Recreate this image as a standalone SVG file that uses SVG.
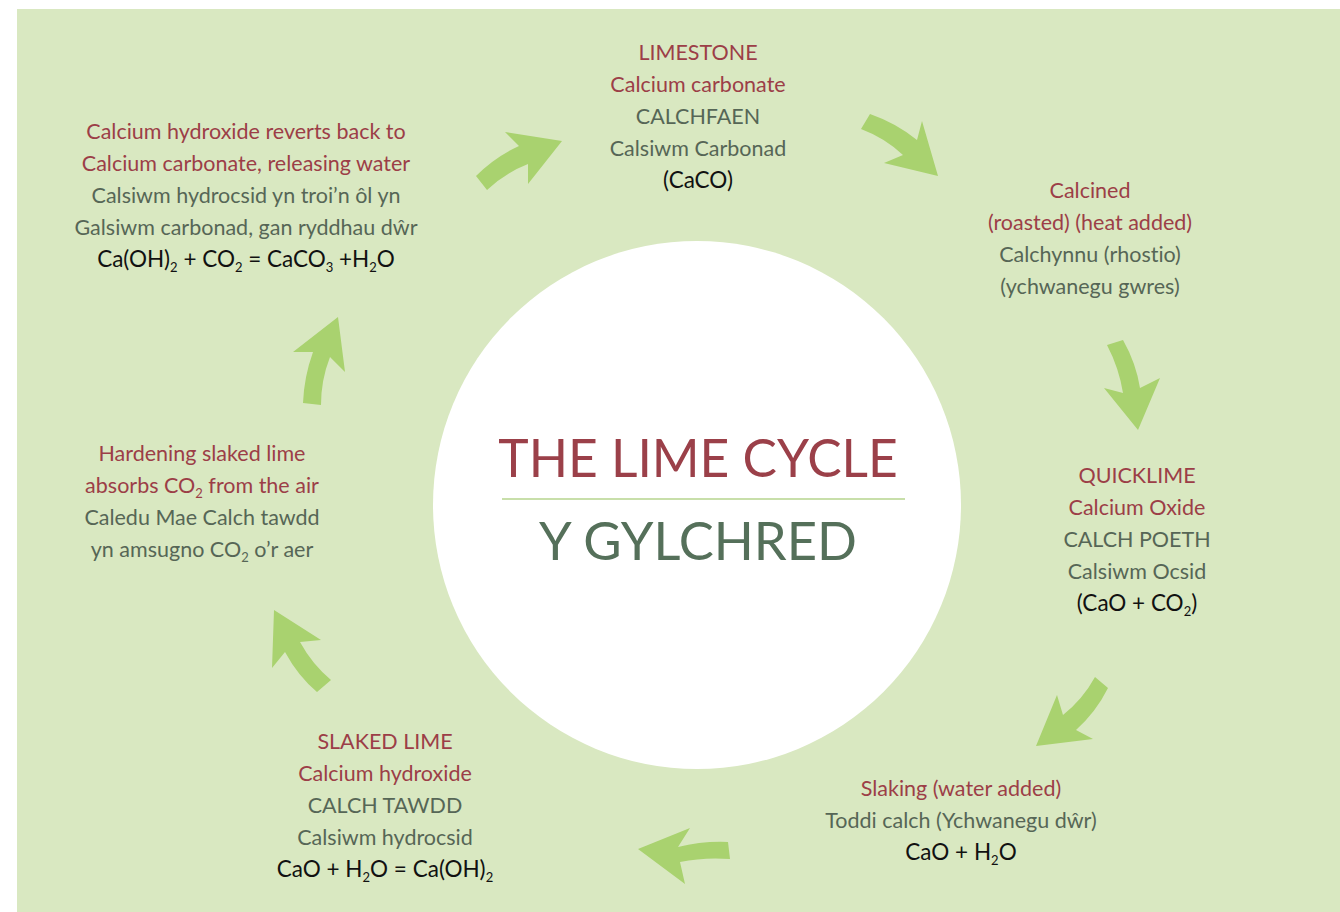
<svg xmlns="http://www.w3.org/2000/svg" width="1340" height="912" viewBox="0 0 1340 912">
<style>
text{font-variant-ligatures:none}
.t{font-family:Lato,"Open Sans","DejaVu Sans",sans-serif;font-size:21.5px;text-anchor:middle}
.r{fill:#9c3e47}
.g{fill:#566656}
.k{fill:#111111;font-size:22.5px}
.s{font-size:13px}
.arrow{fill:#a9d26f}
</style>
<rect x="17" y="9" width="1323" height="903" fill="#d9e8c1"/>
<g id="center">
<circle cx="697" cy="505" r="264" fill="#ffffff"/>
<text x="698" y="477" style="font-family:Lato,'Open Sans',sans-serif;font-size:51.5px;text-anchor:middle" fill="#9b4049">THE LIME CYCLE</text>
<line x1="502" y1="499" x2="905" y2="499" stroke="#b6d48e" stroke-width="1.5"/>
<text x="698" y="560" style="font-family:Lato,'Open Sans',sans-serif;font-size:52.5px;text-anchor:middle" fill="#55705a">Y GYLCHRED</text>
</g>
<g id="connectors">
<path class="arrow" d="M476,176 Q495,157 519,146 L505,132 L562,141 L528,184 L528,164 Q505,173 487,190 Z"/>
<path class="arrow" d="M870,114 Q896,123 917,140 L922,121 L938,176 L884,163 L903,155 Q885,138 861,129 Z"/>
<path class="arrow" d="M1123,340 Q1136,363 1140,388 L1160,378 L1138,430 L1104,388 L1123,393 Q1119,368 1107,345 Z"/>
<path class="arrow" d="M1095,677 Q1083,699 1063,715 L1057,695 L1036,746 L1093,739 L1076,730 Q1096,712 1108,688 Z"/>
<path class="arrow" d="M728,842 Q702,841 678,847 L690,828 L638,849 L685,884 L680,862 Q704,857 730,859 Z"/>
<path class="arrow" d="M331,680 Q312,664 300,642 L321,640 L274,610 L272,668 L285,652 Q298,676 317,692 Z"/>
<path class="arrow" d="M303,403 Q304,377 313,352 L293,352 L338,317 L345,372 L330,357 Q321,380 321,405 Z"/>
</g>
<g id="limestone">
<text class="t r" x="698" y="60">LIMESTONE</text>
<text class="t r" x="698" y="92">Calcium carbonate</text>
<text class="t g" x="698" y="124">CALCHFAEN</text>
<text class="t g" x="698" y="156">Calsiwm Carbonad</text>
<text class="t k" x="698" y="188">(CaCO)</text>
</g>
<g id="calcined">
<text class="t r" x="1090" y="198">Calcined</text>
<text class="t r" x="1090" y="230">(roasted) (heat added)</text>
<text class="t g" x="1090" y="262">Calchynnu (rhostio)</text>
<text class="t g" x="1090" y="294">(ychwanegu gwres)</text>
</g>
<g id="quicklime">
<text class="t r" x="1137" y="483">QUICKLIME</text>
<text class="t r" x="1137" y="515">Calcium Oxide</text>
<text class="t g" x="1137" y="547">CALCH POETH</text>
<text class="t g" x="1137" y="579">Calsiwm Ocsid</text>
<text class="t k" x="1137" y="611">(CaO + CO<tspan class="s" dy="5">2</tspan><tspan dy="-5">)</tspan></text>
</g>
<g id="slaking">
<text class="t r" x="961" y="796">Slaking (water added)</text>
<text class="t g" x="961" y="828">Toddi calch (Ychwanegu dŵr)</text>
<text class="t k" x="961" y="860">CaO + H<tspan class="s" dy="5">2</tspan><tspan dy="-5">O</tspan></text>
</g>
<g id="slaked-lime">
<text class="t r" x="385" y="749">SLAKED LIME</text>
<text class="t r" x="385" y="781">Calcium hydroxide</text>
<text class="t g" x="385" y="813">CALCH TAWDD</text>
<text class="t g" x="385" y="845">Calsiwm hydrocsid</text>
<text class="t k" x="385" y="877">CaO + H<tspan class="s" dy="5">2</tspan><tspan dy="-5">O = Ca(OH)</tspan><tspan class="s" dy="5">2</tspan></text>
</g>
<g id="hardening">
<text class="t r" x="202" y="461">Hardening slaked lime</text>
<text class="t r" x="202" y="493">absorbs CO<tspan class="s" dy="5">2</tspan><tspan dy="-5"> from the air</tspan></text>
<text class="t g" x="202" y="525">Caledu Mae Calch tawdd</text>
<text class="t g" x="202" y="557">yn amsugno CO<tspan class="s" dy="5">2</tspan><tspan dy="-5"> o’r aer</tspan></text>
</g>
<g id="reverts">
<text class="t r" x="246" y="139">Calcium hydroxide reverts back to</text>
<text class="t r" x="246" y="171">Calcium carbonate, releasing water</text>
<text class="t g" x="246" y="203">Calsiwm hydrocsid yn troi’n ôl yn</text>
<text class="t g" x="246" y="235">Galsiwm carbonad, gan ryddhau dŵr</text>
<text class="t k" x="246" y="267">Ca(OH)<tspan class="s" dy="5">2</tspan><tspan dy="-5"> + CO</tspan><tspan class="s" dy="5">2</tspan><tspan dy="-5"> = CaCO</tspan><tspan class="s" dy="5">3</tspan><tspan dy="-5"> +H</tspan><tspan class="s" dy="5">2</tspan><tspan dy="-5">O</tspan></text>
</g>
</svg>
